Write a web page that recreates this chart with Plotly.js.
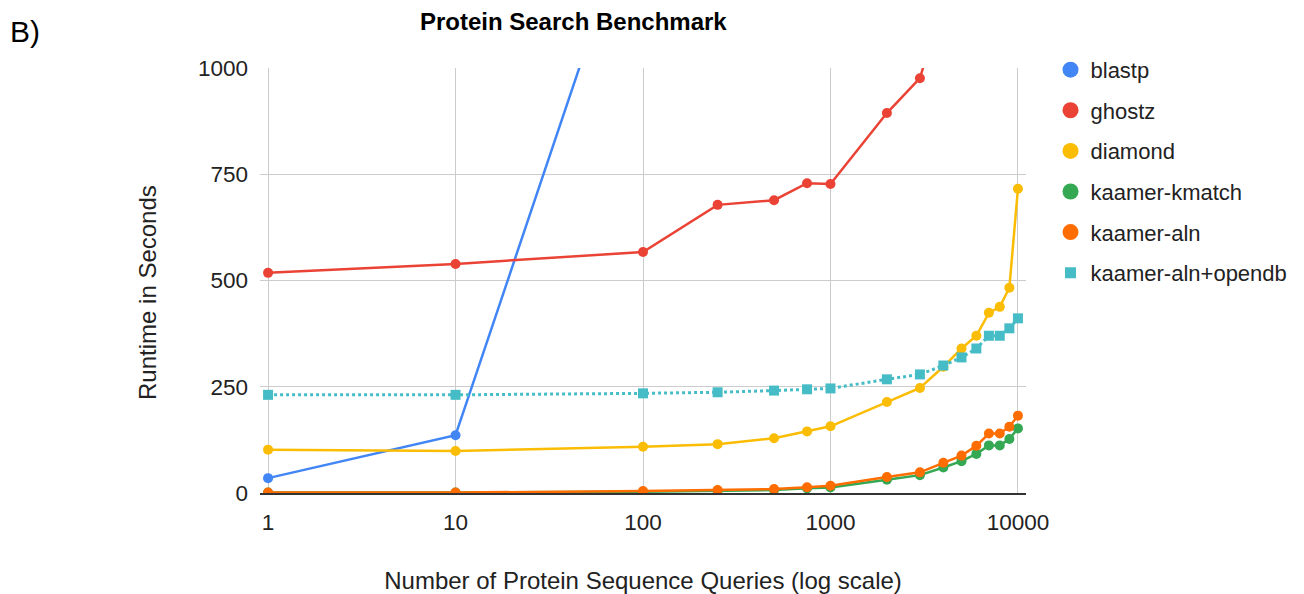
<!DOCTYPE html>
<html>
<head>
<meta charset="utf-8">
<script src="https://cdn.plot.ly/plotly-3.0.1.min.js"></script>
<style>html,body{margin:0;padding:0;background:#fff;}#chart{width:1304px;height:594px;}</style>
</head>
<body>
<div id="chart"></div>
<script>
const queries = [1, 10, 100, 250, 500, 750, 1000, 2000, 3000, 4000, 5000, 6000, 7000, 8000, 9000, 10000];
const blastpX = [1, 10, 100];
const blastpY = [35, 136, 1445];
const ghostzX = [1, 10, 100, 250, 500, 750, 1000, 2000, 3000, 4000];
const ghostzY = [518, 539, 567, 678, 689, 729, 727, 894, 976, 1160];
const diamondY = [102, 99, 109, 115, 129, 145, 157, 214, 247, 297, 340, 370, 424, 438, 483, 716];
const kmatchY = [1, 1, 3, 5, 7, 11, 13, 31, 42, 60, 75, 92, 112, 112, 127, 152];
const alnY = [1, 1, 4.7, 7, 9.4, 13.4, 17, 37.6, 48.6, 71, 88, 111, 140, 140, 156, 182];
const opendbY = [231, 231, 234.5, 237, 241, 244, 246, 267.5, 279, 300, 319, 340, 370, 370, 387.5, 411];
const seriesNames = ['blastp', 'ghostz', 'diamond', 'kaamer-kmatch', 'kaamer-aln', 'kaamer-aln+opendb'];
const xTickVals = [1, 10, 100, 1000, 10000];
const xTickText = ['1', '10', '100', '1000', '10000'];
const yTickVals = [0, 250, 500, 750, 1000];

const colors = ['#4285F4', '#EA4335', '#FBBC04', '#34A853', '#FF6D01', '#46BDC6'];
const FONT = 'Liberation Sans, Arial, sans-serif';

function lineTrace(name, x, y, color, opts) {
  opts = opts || {};
  return {
    type: 'scatter', mode: 'lines+markers', name: name, x: x, y: y,
    line: {color: color, width: opts.width || 2.5, dash: opts.dash || 'solid'},
    marker: {color: color, size: opts.msize || 10, symbol: opts.symbol || 'circle'},
    showlegend: false, hoverinfo: 'x+y+name'
  };
}
function legendTrace(name, color, symbol, size) {
  return {
    type: 'scatter', mode: 'markers', name: name, x: [null], y: [null],
    marker: {color: color, size: size, symbol: symbol},
    showlegend: true, legendgroup: name
  };
}

const data = [
  lineTrace(seriesNames[0], blastpX, blastpY, colors[0]),
  lineTrace(seriesNames[1], ghostzX, ghostzY, colors[1]),
  lineTrace(seriesNames[2], queries, diamondY, colors[2]),
  lineTrace(seriesNames[3], queries, kmatchY, colors[3]),
  lineTrace(seriesNames[4], queries, alnY, colors[4]),
  lineTrace(seriesNames[5], queries, opendbY, colors[5], {dash: 'dot', width: 3, symbol: 'square', msize: 10}),
];
seriesNames.forEach((n, i) => {
  data.push(legendTrace(n, colors[i], i === 5 ? 'square' : 'circle', i === 5 ? 11 : 16));
});

const layout = {
  width: 1304, height: 594,
  margin: {l: 260, r: 276, t: 68, b: 101},
  paper_bgcolor: '#fff', plot_bgcolor: '#fff',
  font: {family: FONT, size: 22, color: '#222'},
  title: {text: '<b>Protein Search Benchmark</b>', font: {family: FONT, size: 24, color: '#000'},
          x: 0.409, xref: 'paper', xanchor: 'center', y: 0.963, yref: 'container', yanchor: 'middle'},
  xaxis: {
    type: 'log', range: [-0.043, 4.043],
    tickvals: xTickVals, ticktext: xTickText,
    showgrid: true, gridcolor: '#cccccc', gridwidth: 1,
    showline: true, linecolor: '#333333', linewidth: 1.5,
    ticks: '', ticklabelstandoff: 8,
    tickfont: {family: FONT, size: 22.5, color: '#222'},
    title: {text: 'Number of Protein Sequence Queries (log scale)', font: {family: FONT, size: 24, color: '#222'}, standoff: 44},
    zeroline: false, automargin: false
  },
  yaxis: {
    range: [0, 1000], tickvals: yTickVals,
    showgrid: true, gridcolor: '#cccccc', gridwidth: 1,
    showline: false, zeroline: false, ticks: '', ticklabelstandoff: 11,
    tickfont: {family: FONT, size: 22.5, color: '#222'},
    automargin: false
  },
  legend: {
    x: 1.032, xanchor: 'left', y: 1.045, yanchor: 'top',
    font: {family: FONT, size: 22, color: '#222'},
    tracegroupgap: 9, bgcolor: 'rgba(0,0,0,0)', itemclick: false, itemdoubleclick: false
  },
  annotations: [
    {
      text: 'Runtime in Seconds', textangle: -90, xref: 'paper', yref: 'paper',
      x: -0.146, y: 0.471, xanchor: 'center', yanchor: 'middle', showarrow: false,
      font: {family: FONT, size: 24, color: '#222'}
    },
    {
      text: 'B)', xref: 'paper', yref: 'paper', x: -0.329, y: 1.085, xanchor: 'left', yanchor: 'middle',
      showarrow: false, font: {family: FONT, size: 30, color: '#000'}
    }
  ],
  showlegend: true
};

Plotly.newPlot('chart', data, layout, {displayModeBar: false, staticPlot: true});
</script>
</body>
</html>
